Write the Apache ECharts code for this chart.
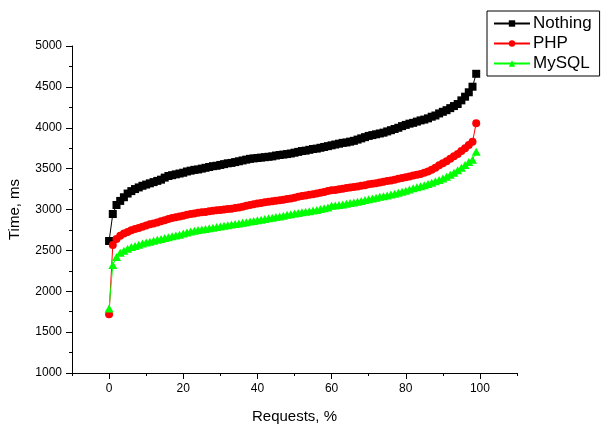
<!DOCTYPE html>
<html>
<head>
<meta charset="utf-8">
<script src="https://cdn.jsdelivr.net/npm/echarts@6/dist/echarts.min.js"></script>
<style>html,body{margin:0;padding:0;background:#fff}#c{width:606px;height:432px}</style>
</head>
<body>
<div id="c"></div>
<script>
var requests = [];
for (var i = 0; i < 100; i++) requests.push(i);
var nothing = [2615,2945,3055,3105,3150,3195,3225,3250,3270,3290,
3305,3320,3335,3350,3365,3390,3410,3420,3430,3440,
3450,3465,3475,3485,3490,3500,3510,3520,3530,3535,
3545,3555,3565,3570,3580,3590,3600,3610,3620,3625,
3630,3635,3640,3645,3650,3660,3667,3672,3678,3685,
3695,3705,3715,3720,3730,3740,3745,3755,3765,3775,
3785,3795,3805,3815,3820,3830,3840,3855,3870,3885,
3900,3910,3920,3930,3940,3955,3970,3985,4000,4020,
4035,4050,4060,4075,4090,4100,4115,4135,4150,4175,
4195,4215,4240,4265,4290,4335,4380,4434,4502,4660];
var php = [1718,2566,2640,2680,2705,2725,2745,2760,2775,2790,
2805,2820,2830,2840,2855,2870,2885,2895,2905,2915,
2925,2935,2945,2952,2960,2965,2970,2978,2985,2990,
2995,3000,3005,3010,3018,3025,3035,3045,3055,3065,
3072,3080,3088,3095,3100,3107,3113,3120,3128,3135,
3145,3155,3165,3172,3180,3188,3195,3205,3215,3225,
3235,3240,3248,3255,3262,3268,3275,3280,3290,3298,
3308,3315,3322,3330,3340,3348,3356,3365,3375,3385,
3395,3405,3415,3425,3435,3450,3465,3485,3510,3540,
3565,3590,3620,3650,3680,3715,3750,3790,3830,4054];
var mysql = [1790,2321,2420,2470,2495,2520,2540,2555,2570,2585,
2595,2606,2618,2630,2640,2650,2662,2672,2682,2692,
2705,2720,2730,2740,2748,2755,2762,2770,2778,2785,
2792,2800,2808,2815,2822,2830,2838,2845,2852,2860,
2868,2875,2883,2892,2900,2908,2915,2925,2935,2942,
2950,2958,2965,2972,2980,2988,2995,3005,3015,3025,
3045,3050,3055,3062,3070,3078,3086,3095,3105,3115,
3125,3135,3145,3155,3163,3172,3182,3194,3206,3218,
3230,3245,3260,3272,3285,3298,3312,3328,3345,3362,
3380,3400,3425,3450,3480,3510,3545,3580,3610,3705];
var xMajorTicks = [0,20,40,60,80,100];
var xMinorTicks = [-10,10,30,50,70,90,110];

function pairs(ys){ return ys.map(function(v,i){ return [requests[i], v]; }); }

var font = 'Liberation Sans, Arial, sans-serif';
var chart = echarts.init(document.getElementById('c'), null, {renderer:'canvas'});
chart.setOption({
  animation: false,
  backgroundColor: '#fff',
  textStyle: {fontFamily: font},
  grid: {left: 72, right: 89, top: 46, bottom: 59, containLabel: false, outerBoundsMode: 'none'},
  legend: {
    orient: 'vertical', left: 487, top: 11, width: 110,
    padding: [4, 8, 4, 6], itemGap: 3,
    borderColor: '#000', borderWidth: 1,
    itemWidth: 36, itemHeight: 8,
    textStyle: {fontSize: 17, color: '#000', fontFamily: font, padding: [0,0,0,-2]},
    data: ['Nothing','PHP','MySQL']
  },
  xAxis: [{
    type: 'value', min: -10, max: 110,
    name: 'Requests, %', nameLocation: 'middle', nameGap: 36,
    nameTextStyle: {fontSize: 15, color: '#000', fontFamily: font},
    axisLine: {show: true, onZero: false, lineStyle: {color: '#000', width: 1}},
    axisTick: {show: true, length: 6, customValues: xMajorTicks, lineStyle: {color: '#000'}},
    axisLabel: {customValues: xMajorTicks, fontSize: 12, color: '#000', margin: 10, fontFamily: font},
    splitLine: {show: false}
  }, {
    type: 'value', min: -10, max: 110, position: 'bottom',
    axisLine: {show: false, onZero: false},
    axisTick: {show: true, length: 3, customValues: xMinorTicks, lineStyle: {color: '#000'}},
    axisLabel: {show: false},
    splitLine: {show: false}
  }],
  yAxis: {
    type: 'value', min: 1000, max: 5000, interval: 500,
    name: 'Time, ms', nameLocation: 'middle', nameGap: 50, nameRotate: 90,
    nameTextStyle: {fontSize: 15, color: '#000', fontFamily: font},
    axisLine: {show: true, onZero: false, lineStyle: {color: '#000', width: 1}},
    axisTick: {show: true, length: 6, lineStyle: {color: '#000'}},
    minorTick: {show: true, splitNumber: 2, length: 3, lineStyle: {color: '#000'}},
    axisLabel: {fontSize: 12, color: '#000', margin: 10, fontFamily: font,
      formatter: function(v){ return String(v); }},
    splitLine: {show: false}
  },
  series: [{
    name: 'Nothing', type: 'line', data: pairs(nothing),
    symbol: 'rect', symbolSize: 8,
    lineStyle: {color: '#000', width: 1},
    itemStyle: {color: '#000'}
  }, {
    name: 'PHP', type: 'line', data: pairs(php),
    symbol: 'circle', symbolSize: 8,
    lineStyle: {color: '#ff0000', width: 1},
    itemStyle: {color: '#ff0000'}
  }, {
    name: 'MySQL', type: 'line', data: pairs(mysql),
    symbol: 'triangle', symbolSize: [9, 8],
    lineStyle: {color: '#00ff00', width: 1},
    itemStyle: {color: '#00ff00'}
  }]
});
</script>
</body>
</html>
